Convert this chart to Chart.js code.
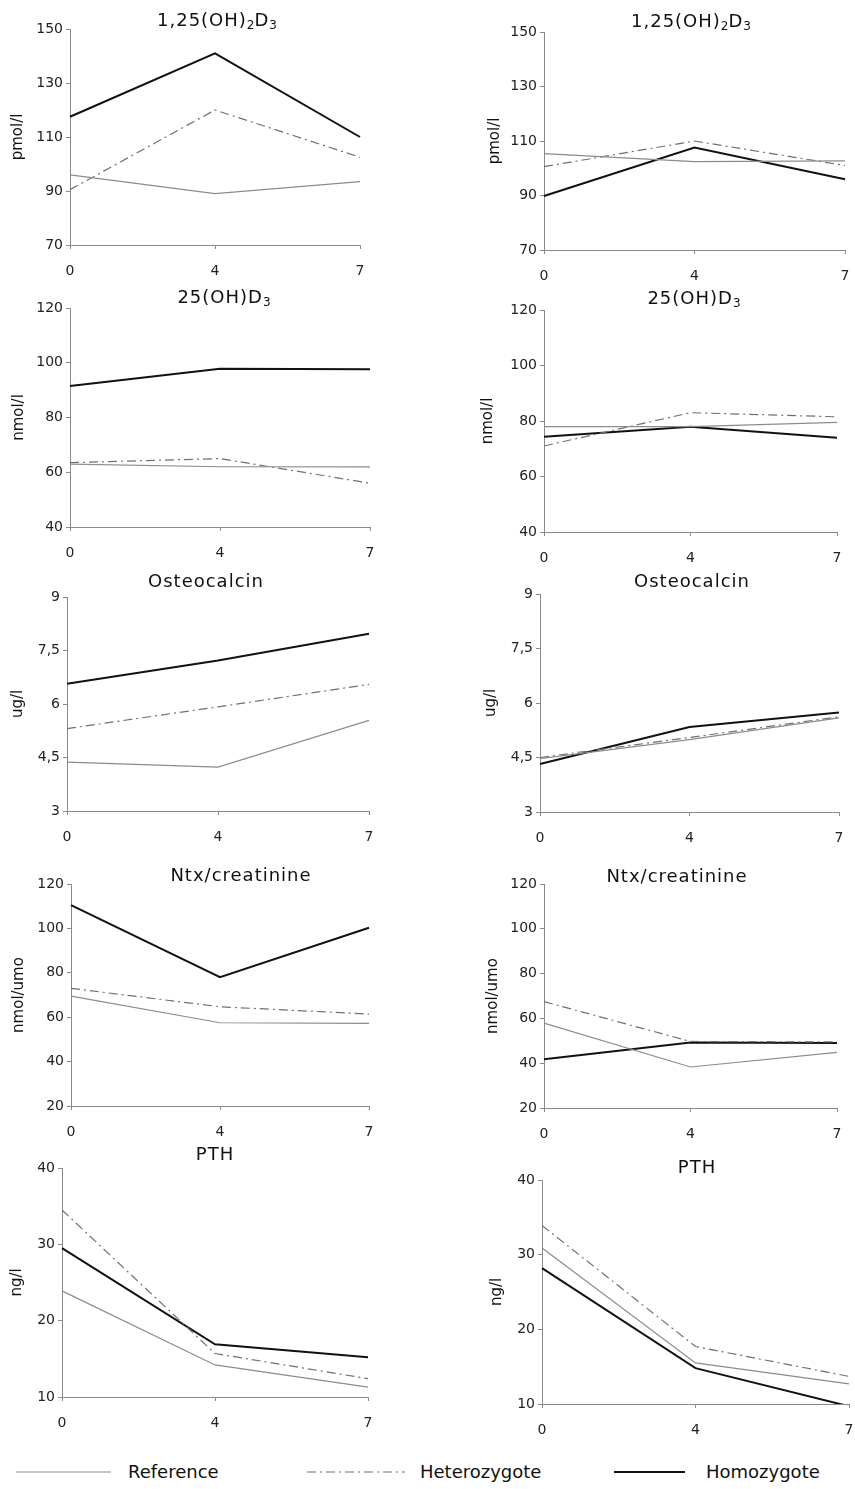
<!DOCTYPE html>
<html>
<head>
<meta charset="utf-8">
<script src="https://cdn.jsdelivr.net/npm/chart.js@4"></script>
<style>
  html, body { margin: 0; padding: 0; background: #fff; }
  body { position: relative; width: 855px; height: 1489px; overflow: hidden; font-family: "DejaVu Sans", sans-serif; }
  canvas { position: absolute; }
  .title { position: absolute; width: 300px; text-align: center; font-size: 18px; letter-spacing: 1px; line-height: 22px; color: #111; }
  .title sub { font-size: 12px; vertical-align: -3px; letter-spacing: 0; }
  .legend { position: absolute; top: 1460px; height: 24px; font-size: 18px; line-height: 24px; color: #111; }
  .legend svg { position: absolute; top: 0; }
</style>
</head>
<body>
<div id="root"></div>
<script>
// x categories (days)
const days = ['0', '4', '7'];

const titles = ['1,25(OH)<sub>2</sub>D<sub>3</sub>', '25(OH)D<sub>3</sub>', 'Osteocalcin', 'Ntx/creatinine', 'PTH'];
const units = ['pmol/l', 'nmol/l', 'ug/l', 'nmol/umo', 'ng/l'];
const yMin = [70, 40, 3, 20, 10];
const yMax = [150, 120, 9, 120, 40];
const yStep = [20, 20, 1.5, 20, 10];

// left column
const referenceLeft = [[96, 89, 93.5], [63, 62, 62], [4.37, 4.23, 5.54], [69.5, 57.5, 57.2], [23.9, 14.2, 11.3]];
const heterozygoteLeft = [[90.5, 120, 102.5], [63.5, 65, 56], [5.31, 5.92, 6.55], [73, 64.7, 61.4], [34.5, 15.7, 12.4]];
const homozygoteLeft = [[117.5, 141, 110], [91.5, 97.8, 97.6], [6.57, 7.22, 7.97], [110.5, 78, 100.3], [29.5, 16.9, 15.2]];

// right column
const referenceRight = [[105.4, 102.4, 102.7], [78, 78, 79.5], [4.47, 4.99, 5.59], [57.9, 38.3, 44.8], [30.9, 15.5, 12.7]];
const heterozygoteRight = [[100.6, 110, 101], [71, 83, 81.5], [4.5, 5.05, 5.62], [67.5, 49.7, 49.5], [33.9, 17.7, 13.7]];
const homozygoteRight = [[89.8, 107.6, 96], [74.3, 77.9, 74], [4.32, 5.34, 5.74], [41.8, 49.2, 49], [28.2, 14.8, 9.7]];

// layout: plot area rects [left, top, right, bottom], y axis widths, title centres
const plotLeft = [[70, 29, 360, 245], [70, 308, 370, 527], [67, 597, 369, 811], [71, 884, 369, 1106], [62, 1168, 368, 1397]];
const plotRight = [[544, 32, 845, 250], [544, 310, 837, 532], [540, 594, 839, 812], [544, 884, 837, 1108], [542, 1180, 849, 1404]];
const axisWLeft = [61, 60, 58, 61, 54];
const axisWRight = [58, 65, 58, 60, 54];
const titlePosLeft = [[217, 20], [224, 297], [206, 581], [241, 875], [215, 1154]];
const titlePosRight = [[691, 21], [694, 298], [692, 581], [677, 876], [697, 1167]];

const root = document.getElementById('root');
const tickFont = { family: '"DejaVu Sans", sans-serif', size: 14 };
const axisColor = '#8a8a8a';

function addTitle(html, pos) {
    const d = document.createElement('div');
    d.className = 'title';
    d.innerHTML = html;
    d.style.left = (pos[0] - 150) + 'px';
    d.style.top = (pos[1] - 11) + 'px';
    root.appendChild(d);
}

function makePanel(i, rect, yw, ref, het, hom) {
    const [l, t, r, b] = rect;
    // right padding must cover half the last x label plus the tick padding
    const padTop = 12, padRight = 22, xAxisH = 36;
    const canvas = document.createElement('canvas');
    canvas.width = (r - l) + yw + padRight;
    canvas.height = (b - t) + padTop + xAxisH;
    canvas.style.left = (l - yw) + 'px';
    canvas.style.top = (t - padTop) + 'px';
    root.appendChild(canvas);

    new Chart(canvas.getContext('2d'), {
        type: 'line',
        data: {
            labels: days,
            datasets: [
                {
                    label: 'Reference',
                    data: ref[i],
                    borderColor: '#8c8c8c',
                    borderWidth: 1.2,
                    pointRadius: 0,
                    tension: 0
                },
                {
                    label: 'Heterozygote',
                    data: het[i],
                    borderColor: '#707070',
                    borderWidth: 1.2,
                    borderDash: [9, 4, 2, 4],
                    pointRadius: 0,
                    tension: 0
                },
                {
                    label: 'Homozygote',
                    data: hom[i],
                    borderColor: '#111',
                    borderWidth: 2,
                    pointRadius: 0,
                    tension: 0
                }
            ]
        },
        options: {
            responsive: false,
            animation: false,
            layout: { padding: { top: padTop, right: padRight, left: 0, bottom: 0 } },
            plugins: {
                legend: { display: false },
                tooltip: { enabled: false }
            },
            scales: {
                x: {
                    type: 'category',
                    offset: false,
                    grid: { display: true, drawOnChartArea: false, drawTicks: true, tickLength: 4, color: axisColor },
                    border: { display: true, color: axisColor, width: 1, dash: [2, 2] },
                    ticks: { font: tickFont, color: '#222', padding: 14, maxRotation: 0 },
                    afterFit: function(scale) { scale.height = xAxisH; }
                },
                y: {
                    min: yMin[i],
                    max: yMax[i],
                    grid: { display: true, drawOnChartArea: false, drawTicks: true, tickLength: 4, color: axisColor },
                    border: { display: true, color: axisColor, width: 1, dash: [2, 2] },
                    ticks: {
                        stepSize: yStep[i],
                        font: tickFont,
                        color: '#222',
                        padding: 3,
                        callback: function(v) { return String(v).replace('.', ','); }
                    },
                    title: {
                        display: true,
                        text: units[i],
                        color: '#111',
                        font: { family: '"DejaVu Sans", sans-serif', size: 15 },
                        padding: 0
                    },
                    afterFit: function(scale) { scale.width = yw; }
                }
            }
        }
    });
}

for (let i = 0; i < 5; i++) {
    makePanel(i, plotLeft[i], axisWLeft[i], referenceLeft, heterozygoteLeft, homozygoteLeft);
    makePanel(i, plotRight[i], axisWRight[i], referenceRight, heterozygoteRight, homozygoteRight);
    addTitle(titles[i], titlePosLeft[i]);
    addTitle(titles[i], titlePosRight[i]);
}

// legend along the bottom
const legendItems = [
    { text: 'Reference', x1: 16, x2: 111, tx: 128, color: '#8c8c8c', width: 1.2, dash: '' },
    { text: 'Heterozygote', x1: 307, x2: 405, tx: 420, color: '#707070', width: 1.2, dash: '9,4,2,4' },
    { text: 'Homozygote', x1: 614, x2: 685, tx: 706, color: '#111', width: 2, dash: '' }
];
legendItems.forEach(item => {
    const wrap = document.createElement('div');
    wrap.className = 'legend';
    wrap.style.left = item.x1 + 'px';
    wrap.style.width = '260px';
    const w = item.x2 - item.x1;
    wrap.innerHTML = '<svg width="' + w + '" height="24"><line x1="0" y1="12" x2="' + w + '" y2="12" stroke="' + item.color +
        '" stroke-width="' + item.width + '"' + (item.dash ? ' stroke-dasharray="' + item.dash + '"' : '') + '/></svg>' +
        '<span style="position:absolute;left:' + (item.tx - item.x1) + 'px;white-space:nowrap">' + item.text + '</span>';
    root.appendChild(wrap);
});
</script>
</body>
</html>
